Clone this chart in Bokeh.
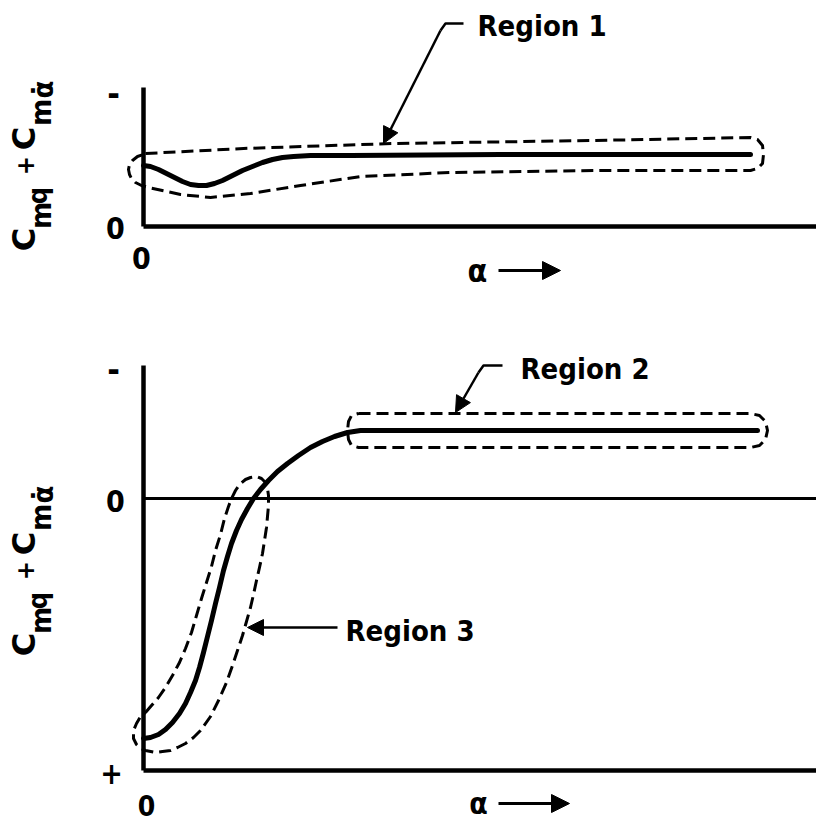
import math
from bokeh.plotting import figure
from bokeh.models import Range1d, Label, Arrow, NormalHead
from bokeh.layouts import column
from bokeh.embed import file_html
from bokeh.resources import INLINE

# ---------------- data (schematic units: alpha from axis origin, damping value) -------------
# Upper chart: Region 1 curve
top_alpha = [0, 7, 15, 23, 31, 39, 47, 55, 63, 71, 79, 89, 99, 109, 119, 129, 139, 150,
             167, 207, 357, 607]
top_cm = [61, 60, 57, 53, 49, 45, 42, 41, 41, 43, 46, 51, 56, 60, 64, 67, 69, 70,
          71, 71, 72, 72]

# Region 1 envelope (closed dashed loop)
r1_alpha = [2, 100, 250, 450, 607, 614, 619, 620, 619, 614, 607,
            457, 307, 217, 157, 107, 67, 37, 5, -2, -8, -12, -14, -15, -14, -11, -6, 0, 2]
r1_cm = [73, 78, 83, 86, 89, 87, 81, 72, 63, 58, 56,
         56, 54, 50, 41, 33, 29, 32, 39, 41, 44, 48, 52, 57, 62, 66, 70, 72, 73]

# Lower chart: curve through zero
bot_alpha = [0, 7, 15, 22, 29, 36, 42, 47, 52, 56, 60, 64, 68, 72, 76, 80, 84, 88, 93,
             98, 104, 110, 117, 125, 134, 144, 155, 167, 179, 191, 204, 217, 257, 614]
bot_cm = [-240, -239, -236, -231, -224, -215, -205, -194, -182, -169, -154, -138, -122,
          -105, -89, -72, -58, -45, -32, -21, -10, 0, 9, 18, 27, 35, 43, 51, 57, 62, 66,
          68, 68, 68]

# Region 2 envelope
r2_alpha = [215, 607, 616, 622, 624, 622, 616, 607, 215, 208, 205, 204, 205, 208, 215]
r2_cm = [85, 85, 83, 77, 68, 59, 53, 51, 51, 53, 59, 68, 77, 83, 85]

# Region 3 envelope
r3_alpha = [2, 8, 15, 22, 29, 36, 42, 48, 53, 58, 63, 68, 72, 77, 81, 85, 88, 92, 96, 102,
            107, 113, 118, 122, 124, 125,
            125, 124, 123, 121, 119, 116, 113, 110, 107, 103, 99, 94, 89, 83, 75, 67, 57,
            50, 42, 34, 27, 19, 12, 2,
            -3, -7, -10, -10, -7, -3, 2]
r3_cm = [-214, -207, -199, -189, -177, -164, -150, -134, -117, -100, -84, -68, -52, -36,
         -20, -8, 0, 8, 14, 19,
         21, 22, 20, 16, 10, 3,
         -7, -18, -29, -42, -55, -69, -82, -96, -109, -123, -137, -152, -167, -184, -202,
         -218, -232, -239, -245, -249, -252, -253, -254, -252,
         -250, -246, -240, -232, -225, -218, -214]

# Axis extents
top_axis_top = 139
bot_axis_top = 133
bot_axis_bottom = -272
axis_right = 700

FONT = "DejaVu Sans Condensed"
WIDE = "DejaVu Sans"


def make_fig(h, y0, y1):
    p = figure(width=816, height=h, x_range=Range1d(-143, 673), y_range=Range1d(y0, y1),
               output_backend="svg", toolbar_location=None, x_axis_type=None,
               y_axis_type=None, min_border=0)
    p.outline_line_color = None
    p.background_fill_color = "white"
    p.border_fill_color = "white"
    return p


def txt(p, x, y, s, size, align="center", baseline="middle", angle=0.0, font=FONT):
    p.add_layout(Label(x=x, y=y, text=s, text_font=font, text_font_size=f"{size}px",
                       text_font_style="bold", text_color="black", text_align=align,
                       text_baseline=baseline, angle=angle))


def ylabel(p, conv, off):
    # (text, size, baseline x, centre y along the text, font)
    pieces = [("C", 32, 23, 239, WIDE), ("m", 29, 40, 215, FONT), ("q", 27, 37, 195, FONT),
              ("+", 25, 24, 165, FONT), ("C", 32, 23, 138, WIDE), ("m", 29, 40, 112, FONT),
              ("\u03b1\u0307", 29, 42, 89, FONT)]
    for s, size, sx, sy, font in pieces:
        x, y = conv(sx, sy + off)
        txt(p, x, y, s, size, align="center", baseline="alphabetic", angle=math.pi / 2,
            font=font)


def arrow(p, x0, y0, x1, y1, size=16, w=2.5):
    p.add_layout(Arrow(x_start=x0, y_start=y0, x_end=x1, y_end=y1, line_width=w,
                       line_color="black",
                       end=NormalHead(size=size, fill_color="black", line_color="black",
                                      line_width=1)))


def tconv(sx, sy):
    return sx - 143, 226 - sy


def bconv(sx, sy):
    return sx - 143, 498 - sy


DASH = dict(line_width=3, line_color="black", line_dash="12 6", line_join="round")

# ---------------- top chart ----------------
p1 = make_fig(300, -74, 226)
p1.line([0, 0], [0, top_axis_top], line_width=4.5, line_color="black")
p1.line([0, axis_right], [0, 0], line_width=4.5, line_color="black")
p1.line(r1_alpha, r1_cm, **DASH)
p1.line(top_alpha, top_cm, line_width=5, line_color="black", line_cap="round",
        line_join="round")

txt(p1, *tconv(113, 92), "-", 34)
txt(p1, *tconv(115, 227), "0", 30)
txt(p1, *tconv(141, 257), "0", 30)
txt(p1, *tconv(477, 270), "\u03b1", 32)
arrow(p1, *tconv(498, 270), *tconv(560, 270), size=18, w=3)
ylabel(p1, tconv, 0)

txt(p1, *tconv(477, 25), "Region 1", 29, align="left")
p1.line(*zip(*[tconv(463, 23), tconv(445, 23), tconv(440, 30)]), line_width=2.5,
        line_color="black", line_join="round")
arrow(p1, *tconv(440, 30), *tconv(383, 143), size=16)

# ---------------- bottom chart ----------------
p2 = make_fig(524, -326, 198)
p2.line([0, 0], [bot_axis_bottom, bot_axis_top], line_width=4.5, line_color="black")
p2.line([0, axis_right], [bot_axis_bottom, bot_axis_bottom], line_width=4.5,
        line_color="black")
p2.line([0, axis_right], [0, 0], line_width=3, line_color="black")
p2.line(r2_alpha, r2_cm, **DASH)
p2.line(r3_alpha, r3_cm, **DASH)
p2.line(bot_alpha, bot_cm, line_width=5, line_color="black", line_cap="round",
        line_join="round")

txt(p2, *bconv(113, 368), "-", 34)
txt(p2, *bconv(115, 500), "0", 30)
txt(p2, *bconv(111, 772), "+", 30)
txt(p2, *bconv(146, 805), "0", 28)
txt(p2, *bconv(478, 803), "\u03b1", 30)
arrow(p2, *bconv(498, 803), *bconv(569, 803), size=18, w=3)
ylabel(p2, bconv, 405)

txt(p2, *bconv(520, 368), "Region 2", 29, align="left")
p2.line(*zip(*[bconv(502, 365), bconv(483, 365), bconv(478, 372)]), line_width=2.5,
        line_color="black", line_join="round")
arrow(p2, *bconv(478, 372), *bconv(455, 412), size=16)

txt(p2, *bconv(345, 630), "Region 3", 29, align="left")
arrow(p2, *bconv(337, 627), *bconv(247, 627), size=16)

layout = column(p1, p2, spacing=0)
open("out.html", "w").write(file_html(layout, INLINE))
